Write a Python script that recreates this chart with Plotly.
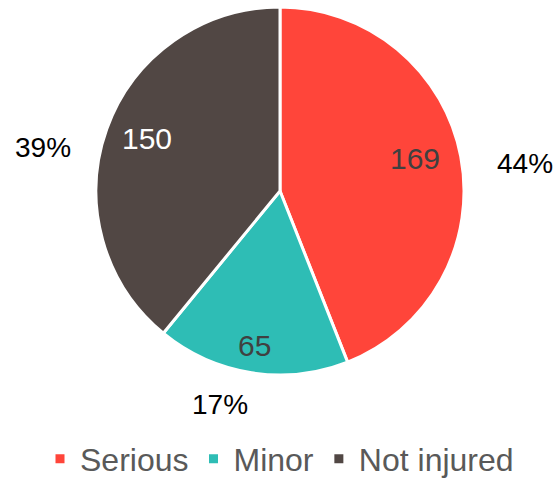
import math
import plotly.graph_objects as go

# ---- data ----
categories = ["Serious", "Minor", "Not injured"]
counts = [169, 65, 150]
percent_labels = ["44%", "17%", "39%"]

# ---- style ----
colors = ["#FF453A", "#2EBDB5", "#514744"]
value_font_colors = ["#404040", "#404040", "#FFFFFF"]
value_radius = [0.757, 0.853, 0.778]       # fraction of pie radius
value_angle_shift = [-2.9, 0.3, 2.0]       # degrees, label nudge
pct_radius = [1.34, 1.208, 1.309]
pct_angle_shift = [4.3, 6.8, -9.4]         # degrees, label nudge

W, H = 559, 479
CX, CY, R = 280, 191, 184   # pixel geometry of the pie

fig = go.Figure()
fig.add_trace(go.Pie(
    labels=categories,
    values=counts,
    sort=False,
    direction="clockwise",
    rotation=0,
    textinfo="none",
    marker=dict(colors=colors, line=dict(color="white", width=3)),
    domain=dict(x=[(CX - R) / W, (CX + R) / W],
                y=[1 - (CY + R) / H, 1 - (CY - R) / H]),
    hoverinfo="label+value+percent",
))

total = sum(counts)
cum = 0
annotations = []
for i, v in enumerate(counts):
    mid = (cum + v / 2) / total * 360.0
    cum += v
    # value label
    a = math.radians(mid + value_angle_shift[i])
    px = CX + math.sin(a) * R * value_radius[i]
    py = CY - math.cos(a) * R * value_radius[i]
    annotations.append(dict(
        x=px / W, y=1 - py / H, xref="paper", yref="paper",
        text=str(v), showarrow=False, xanchor="center", yanchor="middle",
        font=dict(family="Liberation Sans, Arial, sans-serif", size=30,
                  color=value_font_colors[i])))
    # percent label
    b = math.radians(mid + pct_angle_shift[i])
    qx = CX + math.sin(b) * R * pct_radius[i]
    qy = CY - math.cos(b) * R * pct_radius[i]
    annotations.append(dict(
        x=qx / W, y=1 - qy / H, xref="paper", yref="paper",
        text=percent_labels[i], showarrow=False, xanchor="center", yanchor="middle",
        font=dict(family="Liberation Sans, Arial, sans-serif", size=28,
                  color="#000000")))

fig.update_layout(
    width=W, height=H,
    margin=dict(l=0, r=0, t=0, b=0, autoexpand=False),
    paper_bgcolor="white",
    plot_bgcolor="white",
    annotations=annotations,
    showlegend=True,
    legend=dict(orientation="h", x=0.5, xanchor="center", y=1 - 459 / H,
                yanchor="middle",
                font=dict(family="Liberation Sans, Arial, sans-serif", size=32,
                          color="#595959"),
                itemclick=False, itemdoubleclick=False),
)

fig.write_html("out.html", config={"displayModeBar": False},
               post_script="document.body.style.margin='0px';document.body.style.overflow='hidden';")
